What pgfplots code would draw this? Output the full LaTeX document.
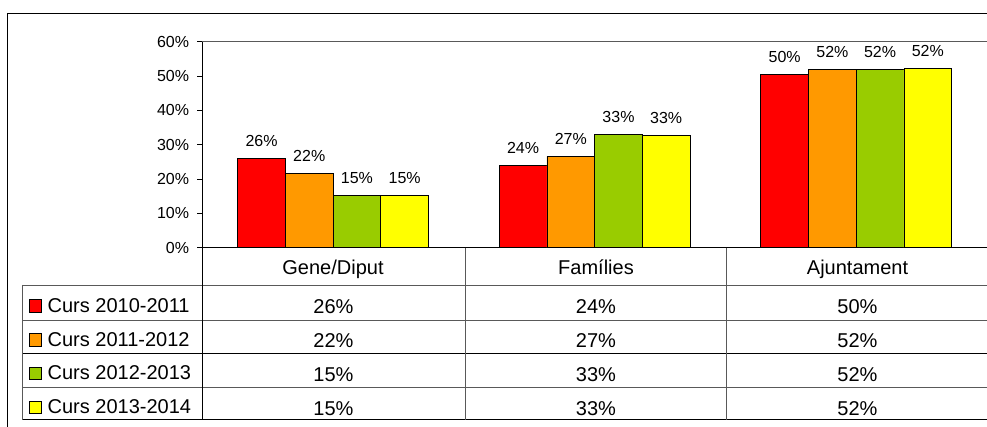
\documentclass[border=0pt]{standalone}
\usepackage{pgfplots}
\pgfplotsset{compat=1.18}
\usepackage{fontspec}
\setmainfont{Liberation Sans}
\newcommand\tablefont{\fontsize{20bp}{24bp}\selectfont}
\newcommand\labelfont{\fontsize{16bp}{19bp}\selectfont}
\definecolor{cRed}{HTML}{FF0000}
\definecolor{cOrange}{HTML}{FF9900}
\definecolor{cGreen}{HTML}{99CC00}
\definecolor{cYellow}{HTML}{FFFF00}
\colorlet{lineGray}{black!65}
\pgfplotsset{
  sqlegend/.style={legend image code/.code={\draw[##1,line width=0.8bp] (0bp,-6.3bp) rectangle (12.7bp,6.3bp);}}
}
\begin{document}
\begin{tikzpicture}
\useasboundingbox (0,0) rectangle (987bp,427bp);
\begin{axis}[
  at={(202.3bp,179.3bp)}, anchor=south west,
  scale only axis, width=784.7bp, height=206bp,
  xmin=-0.5, xmax=2.5, ymin=0, ymax=60,
  axis lines*=left, axis line style={-, black, line width=0.8bp},
  xtick=\empty, ytick={0,10,...,60},
  tick align=outside, major tick length=5bp, tick style={black, line width=0.8bp},
  yticklabel={\pgfmathprintnumber{\tick}\%},
  yticklabel style={font=\labelfont, inner sep=0pt, xshift=-8bp},
  /pgf/number format/assume math mode=true,
  ybar=0pt, bar width=47.7bp,
  nodes near coords={\pgfmathprintnumber[fixed,precision=0]{\pgfplotspointmeta}\%},
  nodes near coords style={font=\labelfont, anchor=south, inner sep=0pt, yshift=11.5bp},
  every axis plot/.append style={draw=black, line width=0.8bp},
  clip=false,
  legend style={at={(-0.2213,-0.202)}, anchor=north west, draw=none, fill=none,
    inner sep=0pt, outer sep=0pt, row sep=0pt, column sep=5.5bp,
    font=\tablefont, cells={anchor=west},
    nodes={inner sep=0pt, minimum height=33.7bp}},
]
\addplot[fill=cRed, sqlegend] coordinates {(0,25.9) (1,23.9) (2,50.4)};
\addplot[fill=cOrange, sqlegend] coordinates {(0,21.7) (1,26.6) (2,51.9)};
\addplot[fill=cGreen, sqlegend] coordinates {(0,15.2) (1,33.0) (2,51.9)};
\addplot[fill=cYellow, sqlegend] coordinates {(0,15.2) (1,32.6) (2,52.2)};
\legend{Curs 2010-2011, Curs 2011-2012, Curs 2012-2013, Curs 2013-2014}
\draw[lineGray, line width=0.8bp] (rel axis cs:0,1) -- (rel axis cs:1,1);
\end{axis}
% outer frame
\draw[black, line width=1bp] (7.5bp,-5bp) -- (7.5bp,413bp) -- (995bp,413bp);
% data table grid
\draw[lineGray, line width=0.8bp] (22bp,142bp) -- (990bp,142bp);
\draw[lineGray, line width=0.8bp] (22bp,107bp) -- (990bp,107bp);
\draw[black, line width=0.8bp] (22bp,73.3bp) -- (990bp,73.3bp);
\draw[lineGray, line width=0.8bp] (22bp,39.3bp) -- (990bp,39.3bp);
\draw[black, line width=0.8bp] (22bp,7.3bp) -- (990bp,7.3bp);
\draw[lineGray, line width=0.8bp] (22bp,142bp) -- (22bp,7.3bp);
\draw[black, line width=0.8bp] (202.3bp,179.3bp) -- (202.3bp,7.3bp);
\draw[lineGray, line width=0.8bp] (465bp,179.3bp) -- (465bp,7.3bp);
\draw[lineGray, line width=0.8bp] (726.7bp,179.3bp) -- (726.7bp,7.3bp);
% header
\begin{scope}[every node/.style={font=\tablefont, anchor=base, inner sep=0pt}]
\node at (333bp,152bp) {Gene/Diput};
\node at (596bp,152bp) {Famílies};
\node at (857.5bp,152bp) {Ajuntament};
\node at (333.5bp,113bp) {26\%};
\node at (596bp,113bp) {24\%};
\node at (857.5bp,113bp) {50\%};
\node at (333.5bp,79.3bp) {22\%};
\node at (596bp,79.3bp) {27\%};
\node at (857.5bp,79.3bp) {52\%};
\node at (333.5bp,45.6bp) {15\%};
\node at (596bp,45.6bp) {33\%};
\node at (857.5bp,45.6bp) {52\%};
\node at (333.5bp,11.9bp) {15\%};
\node at (596bp,11.9bp) {33\%};
\node at (857.5bp,11.9bp) {52\%};
\end{scope}
\end{tikzpicture}
\end{document}
